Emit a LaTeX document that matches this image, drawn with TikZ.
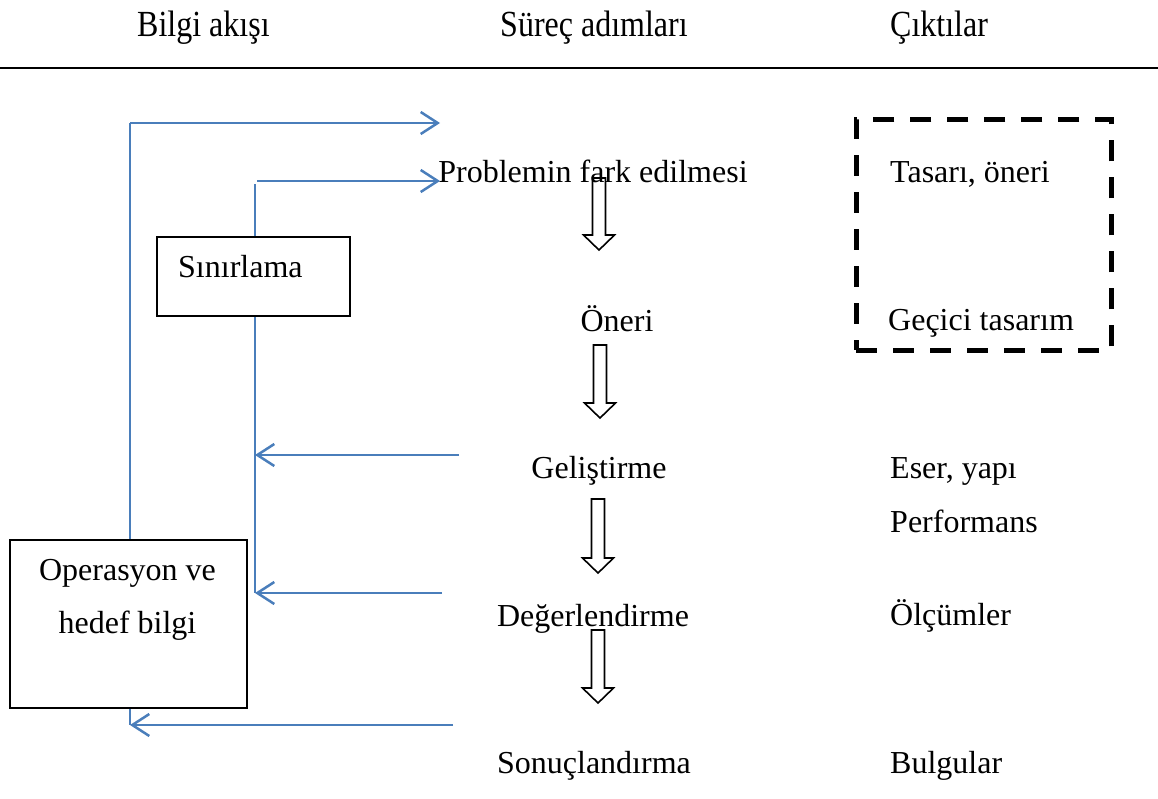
\documentclass[tikz,border=0pt]{standalone}
\usepackage{fontspec}
\setmainfont{Liberation Serif}
\usetikzlibrary{arrows.meta}
\definecolor{flowblue}{HTML}{4A7EBB}
\begin{document}
\begin{tikzpicture}[x=1pt,y=-1pt,
  txt/.style={inner sep=0pt, font=\fontsize{32}{38}\selectfont},
  leftword/.style={txt, anchor=base west},
  midword/.style={txt, anchor=base},
  flowline/.style={draw=flowblue, line width=2.5pt},
  flow/.style={flowline, -{Straight Barb[length=17pt,width=22pt]}},
  boxframe/.style={draw=black, line width=2pt, inner sep=0pt, anchor=north west},
  hollow/.style={draw=black, line width=1.6pt, line join=miter},
  pics/hollowdown/.style={code={
    \draw[hollow] (-6.5,0) -- (6.5,0) -- (6.5,{#1-15}) -- (15.5,{#1-15})
      -- (0,#1) -- (-15.5,{#1-15}) -- (-6.5,{#1-15}) -- cycle;}}
]
\useasboundingbox (0,0) rectangle (1158,798);

% column headings and rule
\node[leftword] (h1) at (137,36) {\scalebox{1}[1.15]{Bilgi akışı}};
\node[leftword] (h2) at (500,36) {\scalebox{1}[1.15]{Süreç adımları}};
\node[leftword] (h3) at (890,36) {\scalebox{1}[1.15]{Çıktılar}};
\draw[line width=2pt] (0,68) -- (1158,68);

% process steps
\node[midword] (s1) at (593,182) {Problemin fark edilmesi};
\node[midword] (s2) at (617,331) {Öneri};
\node[midword] (s3) at (599,478) {Geliştirme};
\node[midword] (s4) at (593,626) {Değerlendirme};
\node[midword] (s5) at (594,773) {Sonuçlandırma};

\pic at (599,178) {hollowdown=72};
\pic at (600,345) {hollowdown=73};
\pic at (598,499) {hollowdown=74};
\pic at (598,630) {hollowdown=73};

% outputs
\node[leftword] (o1) at (890,182) {Tasarı, öneri};
\node[leftword] (o2) at (888,330) {Geçici tasarım};
\node[leftword] (o3) at (890,478) {Eser, yapı};
\node[leftword] (o4) at (890,532) {Performans};
\node[leftword] (o5) at (890,625) {Ölçümler};
\node[leftword] (o6) at (890,773) {Bulgular};
\node[draw=black, line width=4.5pt, dash pattern=on 21pt off 16pt,
      inner sep=0pt, anchor=north west, minimum width=255pt, minimum height=231pt]
      (outbox) at (854,117) {};

% information flow boxes
\node[boxframe, minimum width=193pt, minimum height=79pt] (lim) at (156,236) {};
\node[leftword] (limtext) at (178,277) {Sınırlama};
\node[boxframe, minimum width=237pt, minimum height=168pt] (ops) at (9,539) {};
\node[midword] (opstextA) at (127.5,580) {Operasyon ve};
\node[midword] (opstextB) at (127.5,633) {hedef bilgi};

% free ends of the flow lines
\coordinate (outerTop) at (130,123);
\coordinate (outerTip) at (440,123);
\coordinate (innerTop) at (255,184);
\coordinate (innerStart) at (257,181);
\coordinate (innerTip) at (440,181);
\coordinate (innerLow) at (255,593);
\coordinate (fromDev) at (459,455);
\coordinate (devTip) at (255,455);
\coordinate (fromEval) at (442,593);
\coordinate (fromEnd) at (453,725);
\coordinate (endTip) at (130,725);

% information flow lines
\draw[flowline] (ops.north -| outerTop) -- (outerTop);
\draw[flow] (outerTop) -- (outerTip);
\draw[flowline] (lim.north -| innerTop) -- (innerTop);
\draw[flow] (innerStart) -- (innerTip);
\draw[flowline] (lim.south -| innerLow) -- (innerLow);
\draw[flow] (fromDev) -- (devTip);
\draw[flow] (fromEval) -- (innerLow);
\draw[flowline] (ops.south -| endTip) -- (endTip);
\draw[flow] (fromEnd) -- (endTip);
\end{tikzpicture}
\end{document}
